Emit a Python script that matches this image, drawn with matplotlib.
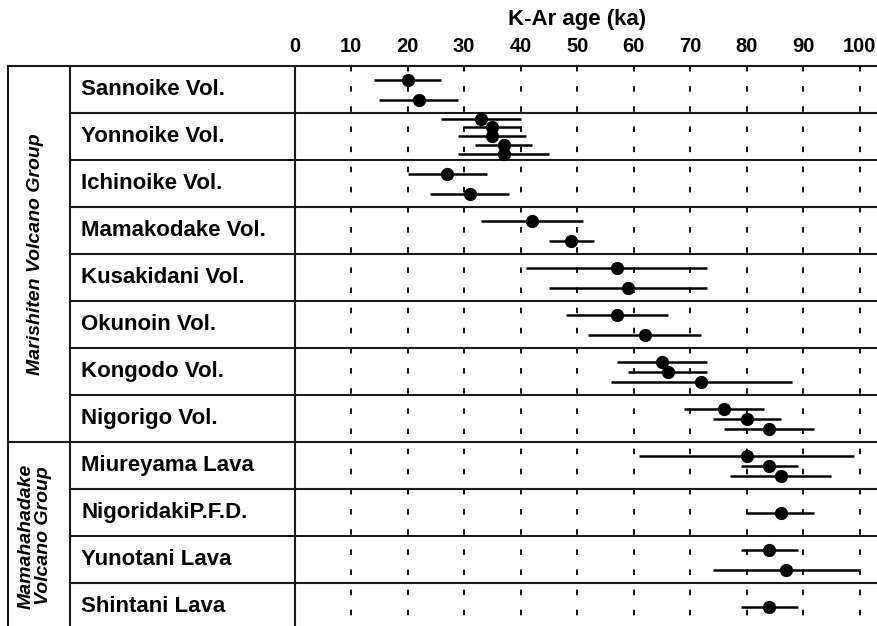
import numpy as np
import matplotlib
matplotlib.use('Agg')
import matplotlib.pyplot as plt

# --- Data ---
units = ['Sannoike Vol.', 'Yonnoike Vol.', 'Ichinoike Vol.', 'Mamakodake Vol.',
         'Kusakidani Vol.', 'Okunoin Vol.', 'Kongodo Vol.', 'Nigorigo Vol.',
         'Miureyama Lava', 'NigoridakiP.F.D.', 'Yunotani Lava', 'Shintani Lava']
ages = [[20, 22], [33, 35, 35, 37, 37], [27, 31], [42, 49], [57, 59], [57, 62],
        [65, 66, 72], [76, 80, 84], [80, 84, 86], [86], [84, 87], [84]]
errors = [[6, 7], [7, 5, 6, 5, 8], [7, 7], [9, 4], [16, 14], [9, 10],
          [8, 7, 16], [7, 6, 8], [19, 5, 9], [6], [5, 13], [5]]
groups = ['Marishiten Volcano Group', 'Mamahahadake\nVolcano Group']
group_sizes = [8, 4]
xticks = list(range(0, 101, 10))

# --- Layout (pixels of the 878x626 figure) ---
W, H = 878, 626
X0_PX, KA_PX = 294.5, 5.652      # x=0 position and pixels per ka
TOP_PX, ROW_PX = 66, 47           # top table line and row height
LEFT_PX, COL_PX, LABEL_PX, GROUP_PX = 8, 70, 81, 35


def px_to_x(px):
    return (px - X0_PX) / KA_PX


def px_to_y(py):
    return (py - TOP_PX) / ROW_PX


plt.rcParams['font.family'] = ['Liberation Sans', 'DejaVu Sans']
plt.rcParams['lines.scale_dashes'] = False

fig = plt.figure(figsize=(W / 100, H / 100), dpi=100)
ax = fig.add_axes([0, 0, 1, 1])
ax.set_xlim(px_to_x(0), px_to_x(W))
ax.set_ylim(px_to_y(H), px_to_y(0))
ax.axis('off')

n_rows = len(units)
x_left, x_col, x_right = px_to_x(LEFT_PX), px_to_x(COL_PX), px_to_x(W)
line_kw = dict(color='#1a1a1a', lw=1.5)

# vertical grid lines
for t in xticks[1:]:
    ax.plot([t, t], [0, n_rows + 1], color='black', lw=1.3,
            dashes=(4.0, 10.5), zorder=1)
ax.plot([0, 0], [0, n_rows + 1], **line_kw)
ax.plot([x_left, x_left], [0, n_rows + 1], **line_kw)
ax.plot([x_col, x_col], [0, n_rows + 1], **line_kw)

# horizontal table lines
group_edges = np.cumsum([0] + group_sizes)
for i in range(n_rows):
    start = x_left if i in group_edges else x_col
    ax.plot([start, x_right], [i, i], **line_kw)

# tick labels and title
for t in xticks:
    ax.text(t, px_to_y(47), str(t), ha='center', va='center',
            fontsize=14.5, fontweight='bold')
ax.text(50, px_to_y(19), 'K-Ar age (ka)', ha='center', va='center',
        fontsize=16, fontweight='bold')

# unit labels
for i, name in enumerate(units):
    ax.text(px_to_x(LABEL_PX), i + 0.5, name, ha='left', va='center',
            fontsize=16, fontweight='bold')

# group labels
for g, name in enumerate(groups):
    mid = (group_edges[g] + group_edges[g + 1]) / 2
    ax.text(px_to_x(GROUP_PX), mid, name, ha='center', va='center',
            rotation=90, fontsize=14, fontweight='bold', style='italic',
            linespacing=1.0, multialignment='center')

# ages with errors
for i in range(n_rows):
    n = len(ages[i])
    if n == 1:
        offs = [0.52]
    elif n <= 3:
        offs = np.linspace(0.3, 0.72, n)
    else:
        offs = np.linspace(0.12, 0.87, n)
    ax.errorbar(ages[i], i + np.asarray(offs), xerr=errors[i], fmt='o',
                color='black', ms=8.5, elinewidth=1.8, capsize=0, zorder=3)

fig.savefig('out.png', dpi=100)
